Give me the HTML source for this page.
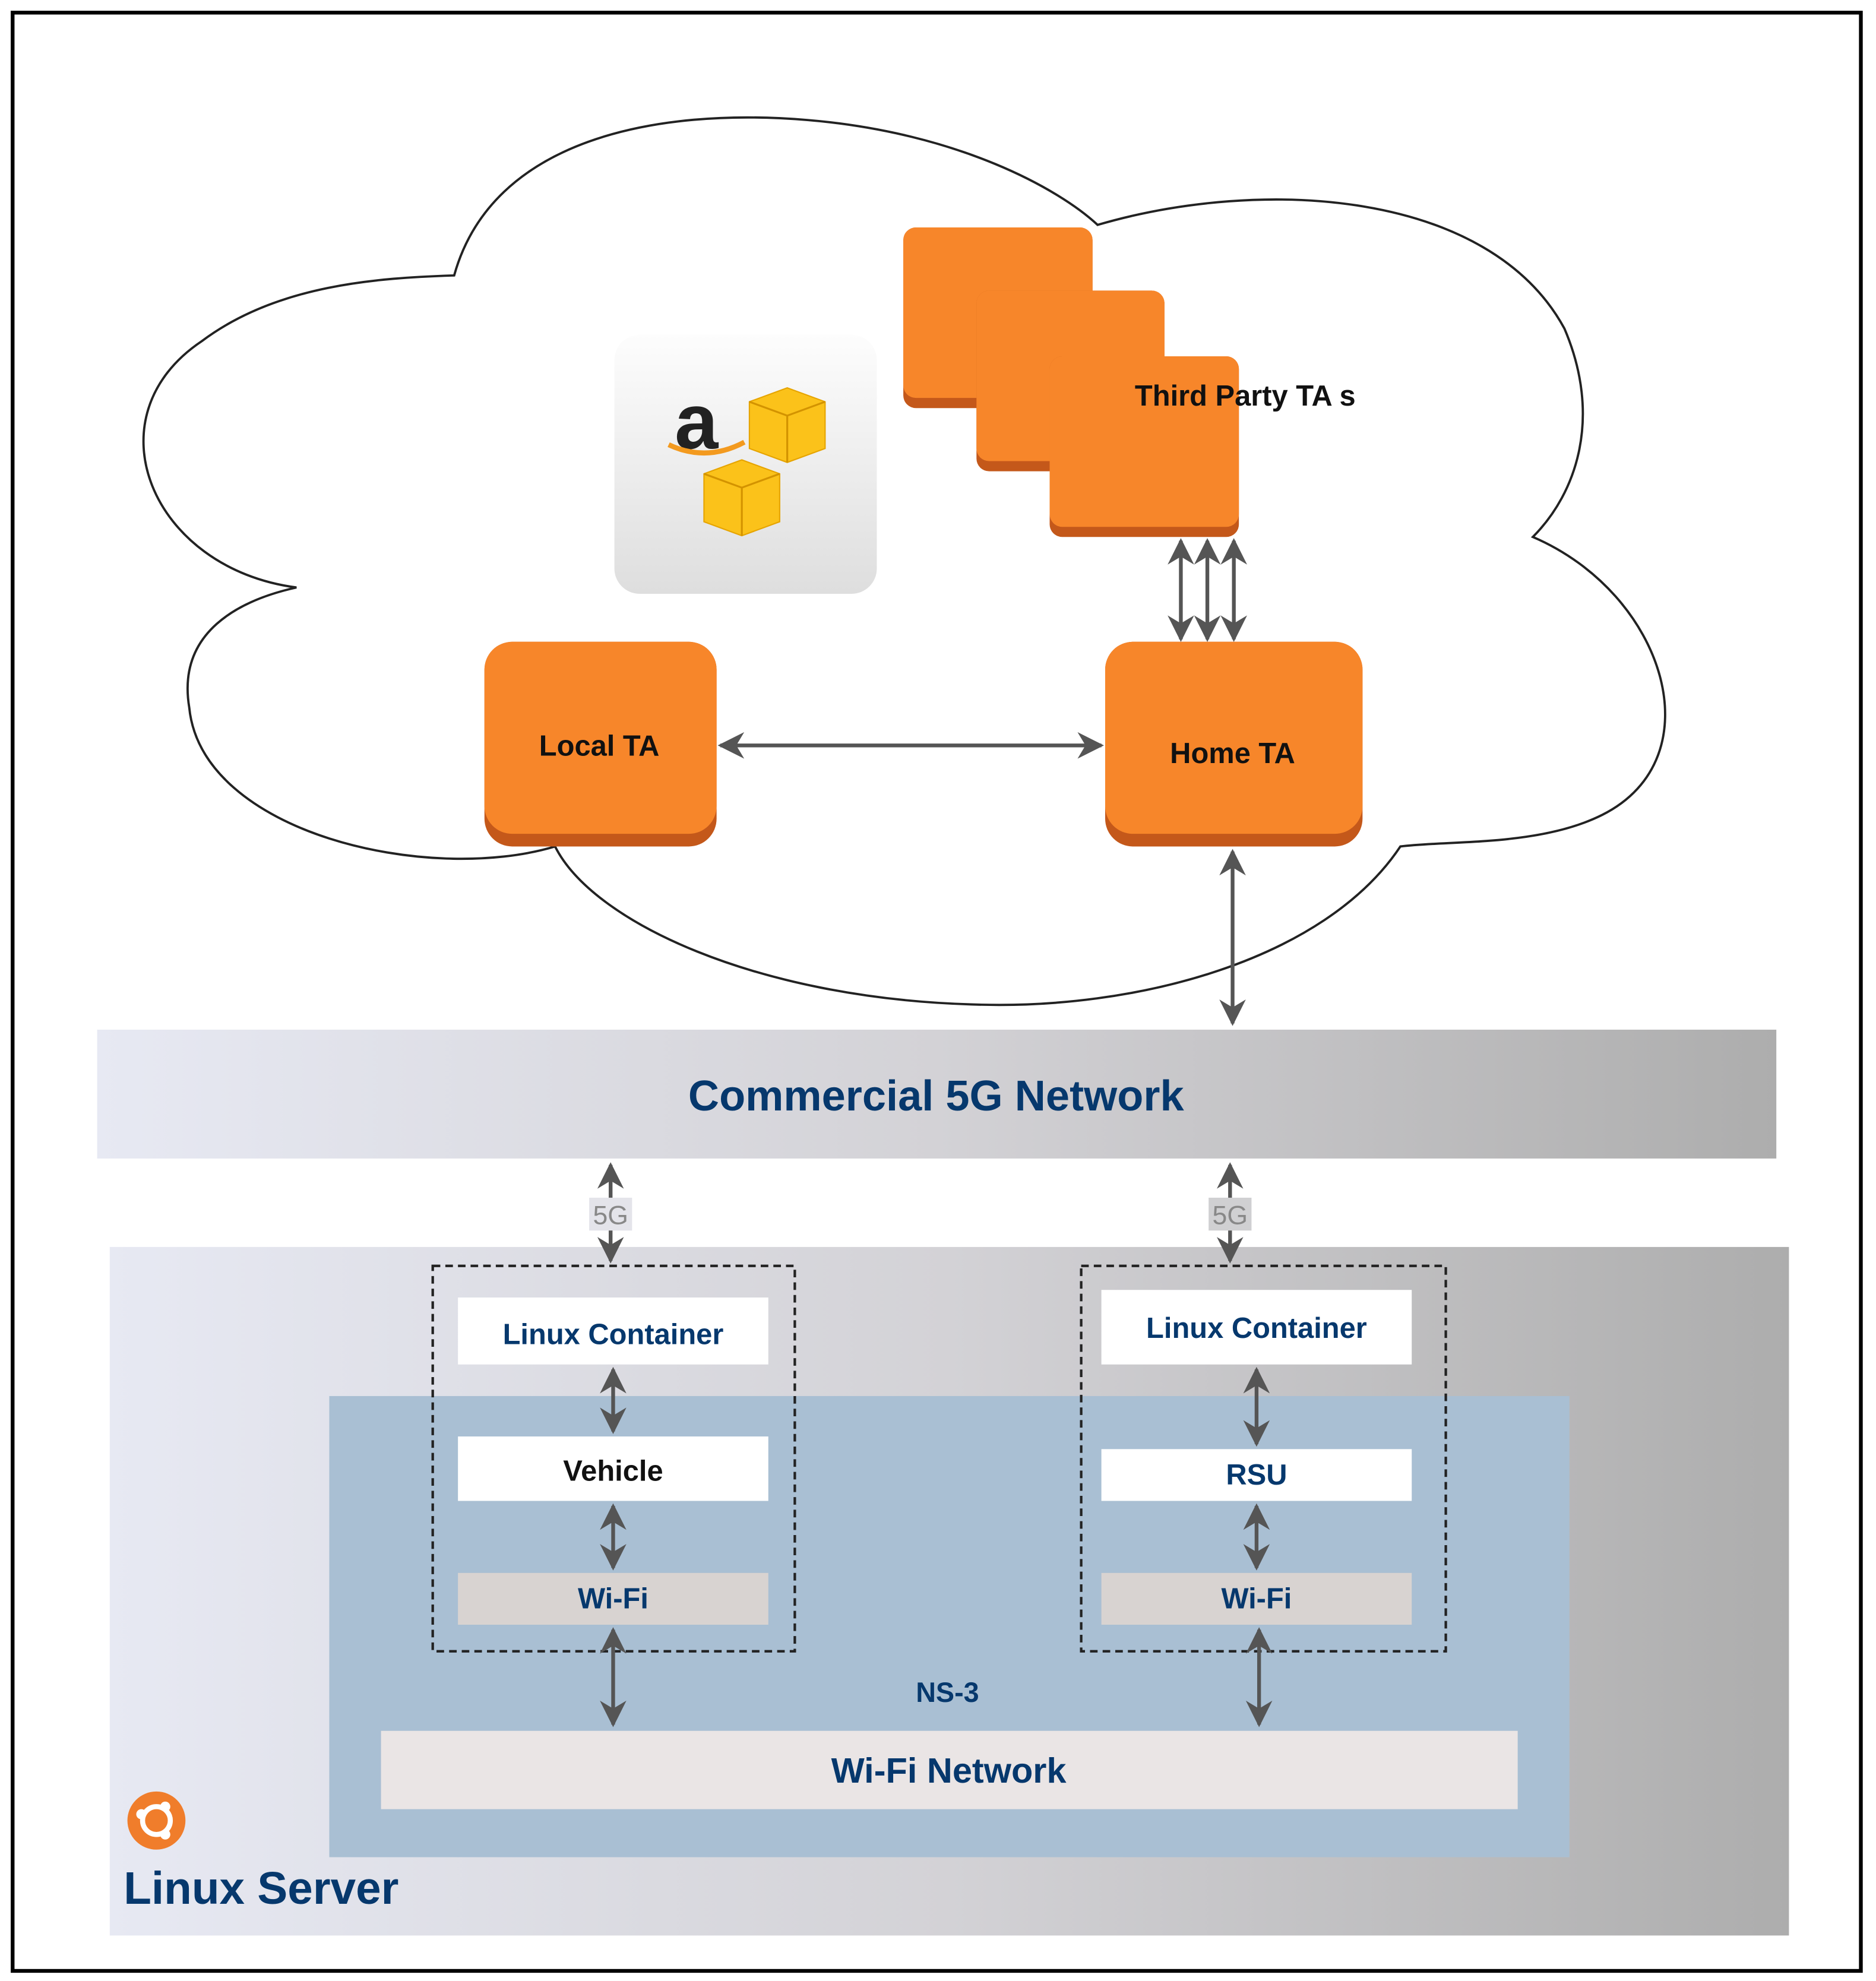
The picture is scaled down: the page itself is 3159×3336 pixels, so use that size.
<!DOCTYPE html>
<html><head><meta charset="utf-8"><style>
html,body{margin:0;padding:0;background:#fff}
svg{display:block}
text{font-family:"Liberation Sans",Arial,sans-serif;font-weight:bold}
</style></head><body>
<svg width="3159" height="3336" viewBox="0 0 1487 1568" preserveAspectRatio="none" xmlns="http://www.w3.org/2000/svg">
<defs>
<marker id="ah" viewBox="0 0 10 10" refX="9" refY="5" markerWidth="7" markerHeight="7" orient="auto-start-reverse">
<path d="M0,0 L10,5 L0,10 L3,5 z" fill="#555"/></marker>
<linearGradient id="band" x1="0" x2="1" y1="0" y2="0"><stop offset="0" stop-color="#e7e9f3"/><stop offset="0.5" stop-color="#d3d2d6"/><stop offset="1" stop-color="#adadad"/></linearGradient>
<linearGradient id="aws" x1="0" x2="0" y1="0" y2="1"><stop offset="0" stop-color="#fdfdfd"/><stop offset="1" stop-color="#dedede"/></linearGradient>
</defs>
<rect x="10" y="10" width="1465" height="1550" fill="#fff" stroke="#000" stroke-width="3"/>
<!-- cloud -->
<path d="M360,218 C390,110 520,85 640,95 C760,105 840,150 870,178 C1000,140 1180,150 1240,260 C1270,330 1250,390 1215,425 C1320,470 1360,600 1270,645 C1220,670 1150,665 1110,670 C1050,760 900,800 770,795 C600,790 470,730 440,670 C340,700 160,660 150,560 C140,500 190,475 235,465 C120,450 70,330 160,270 C220,225 300,220 360,218 Z" fill="#fff" stroke="#222" stroke-width="1.8"/>
<!-- aws logo -->
<rect x="487" y="265" width="208" height="205" rx="20" fill="url(#aws)"/>
<text x="552" y="355" font-size="62" text-anchor="middle" fill="#222" style="font-weight:bold">a</text>
<path d="M530,352 Q560,366 590,350" stroke="#f39a1f" stroke-width="4" fill="none"/>
<g fill="#fbc21a" stroke="#e6a400" stroke-width="1">
<path d="M594,318 L624,307 L654,318 L654,355 L624,366 L594,355 Z"/>
<path d="M558,375 L588,364 L618,375 L618,413 L588,424 L558,413 Z"/>
</g>
<g stroke="#d39300" stroke-width="1.5" fill="none"><path d="M594,318 L624,329 L654,318 M624,329 L624,366"/><path d="M558,375 L588,386 L618,375 M588,386 L588,424"/></g>
<!-- third party stacked -->
<g>
<rect x="716" y="180" width="150" height="143" rx="10" fill="#c4581a"/><rect x="716" y="180" width="150" height="135" rx="10" fill="#f7862a"/>
<rect x="774" y="230" width="149" height="143" rx="10" fill="#c4581a"/><rect x="774" y="230" width="149" height="135" rx="10" fill="#f7862a"/>
<rect x="832" y="282" width="150" height="143" rx="10" fill="#c4581a"/><rect x="832" y="282" width="150" height="135" rx="10" fill="#f7862a"/>
</g>
<text x="987" y="321" font-size="23" text-anchor="middle" fill="#111">Third Party TA s</text>
<!-- Local / Home TA -->
<rect x="384" y="508" width="184" height="162" rx="22" fill="#c4581a"/><rect x="384" y="508" width="184" height="152" rx="22" fill="#f7862a"/>
<text x="475" y="598" font-size="23" text-anchor="middle" fill="#111">Local TA</text>
<rect x="876" y="508" width="204" height="162" rx="22" fill="#c4581a"/><rect x="876" y="508" width="204" height="152" rx="22" fill="#f7862a"/>
<text x="977" y="604" font-size="23" text-anchor="middle" fill="#111">Home TA</text>
<g stroke="#555" stroke-width="3" marker-start="url(#ah)" marker-end="url(#ah)">
<line x1="571" y1="590" x2="873" y2="590"/>
<line x1="936" y1="428" x2="936" y2="506"/>
<line x1="957" y1="428" x2="957" y2="506"/>
<line x1="978" y1="428" x2="978" y2="506"/>
<line x1="977" y1="674" x2="977" y2="810"/>
</g>
<!-- 5G band -->
<rect x="77" y="815" width="1331" height="102" fill="url(#band)"/>
<text x="742" y="879" font-size="34" text-anchor="middle" fill="#06386d">Commercial 5G Network</text>
<!-- Linux server -->
<rect x="87" y="987" width="1331" height="545" fill="url(#band)"/>
<rect x="261" y="1105" width="983" height="365" fill="#a9bfd3"/>
<g stroke="#555" stroke-width="3" marker-start="url(#ah)" marker-end="url(#ah)">
<line x1="484" y1="922" x2="484" y2="998"/>
<line x1="975" y1="922" x2="975" y2="998"/>
</g>
<rect x="467" y="948" width="34" height="26" fill="#e4e4ea"/><rect x="958" y="948" width="34" height="26" fill="#d0d0d2"/>
<text x="484" y="969" font-size="21" text-anchor="middle" fill="#888" style="font-weight:normal">5G</text>
<text x="975" y="969" font-size="21" text-anchor="middle" fill="#888" style="font-weight:normal">5G</text>
<rect x="343" y="1002" width="287" height="305" fill="none" stroke="#222" stroke-width="2" stroke-dasharray="6,4"/>
<rect x="857" y="1002" width="289" height="305" fill="none" stroke="#222" stroke-width="2" stroke-dasharray="6,4"/>
<rect x="363" y="1027" width="246" height="53" fill="#fff"/>
<rect x="873" y="1021" width="246" height="59" fill="#fff"/>
<rect x="363" y="1137" width="246" height="51" fill="#fff"/>
<rect x="873" y="1147" width="246" height="41" fill="#fff"/>
<rect x="363" y="1245" width="246" height="41" fill="#d8d3d1"/>
<rect x="873" y="1245" width="246" height="41" fill="#d8d3d1"/>
<text x="486" y="1064" font-size="23" text-anchor="middle" fill="#06386d">Linux Container</text>
<text x="996" y="1059" font-size="23" text-anchor="middle" fill="#06386d">Linux Container</text>
<text x="486" y="1172" font-size="23" text-anchor="middle" fill="#111">Vehicle</text>
<text x="996" y="1175" font-size="23" text-anchor="middle" fill="#06386d">RSU</text>
<text x="486" y="1273" font-size="23" text-anchor="middle" fill="#06386d">Wi-Fi</text>
<text x="996" y="1273" font-size="23" text-anchor="middle" fill="#06386d">Wi-Fi</text>
<g stroke="#555" stroke-width="3" marker-start="url(#ah)" marker-end="url(#ah)">
<line x1="486" y1="1084" x2="486" y2="1133"/>
<line x1="486" y1="1192" x2="486" y2="1241"/>
<line x1="996" y1="1084" x2="996" y2="1143"/>
<line x1="996" y1="1192" x2="996" y2="1241"/>
<line x1="486" y1="1290" x2="486" y2="1365"/>
<line x1="998" y1="1290" x2="998" y2="1365"/>
</g>
<text x="751" y="1347" font-size="22" text-anchor="middle" fill="#06386d">NS-3</text>
<rect x="302" y="1370" width="901" height="62" fill="#eae5e5"/>
<text x="752" y="1411" font-size="28" text-anchor="middle" fill="#06386d">Wi-Fi Network</text>
<circle cx="124" cy="1441" r="23" fill="#f07d2b"/>
<circle cx="124" cy="1441" r="11" fill="none" stroke="#fff" stroke-width="4"/>
<circle cx="112" cy="1436" r="4" fill="#fff"/><circle cx="131" cy="1430" r="4" fill="#fff"/><circle cx="131" cy="1452" r="4" fill="#fff"/>
<text x="98" y="1507" font-size="36" fill="#06386d">Linux Server</text>
</svg>
</body></html>
